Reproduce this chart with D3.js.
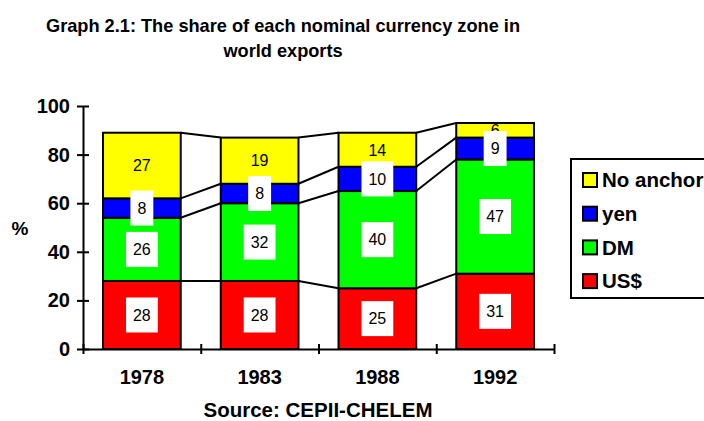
<!DOCTYPE html>
<html>
<head>
<meta charset="utf-8">
<script src="https://cdn.jsdelivr.net/npm/d3@7"></script>
<style>
  body { margin: 0; background: #fff; }
  svg { display: block; font-family: Arial, "Liberation Sans", sans-serif; }
  .axis path, .axis line { stroke: #000; stroke-width: 2; }
  .axis text { font-weight: bold; fill: #000; }
</style>
</head>
<body>
<svg id="chart" width="704" height="421"></svg>
<script>
// data
var years = ['1978', '1983', '1988', '1992'];
var usd = [28, 28, 25, 31];
var dm = [26, 32, 40, 47];
var yen = [8, 8, 10, 9];
var noAnchor = [27, 19, 14, 6];
var seriesNames = ['US$', 'DM', 'yen', 'No anchor'];
var seriesColors = ['#ff0000', '#00ff00', '#0000ff', '#ffff00'];
var yTicks = [0, 20, 40, 60, 80, 100];

var svg = d3.select('#chart');

var rows = years.map(function (y, i) {
    return { year: y, 'US$': usd[i], 'DM': dm[i], 'yen': yen[i], 'No anchor': noAnchor[i] };
});
var stack = d3.stack().keys(seriesNames)(rows);

var x = d3.scaleBand()
    .domain(years)
    .range([83, 554])
    .paddingInner(0.34)
    .paddingOuter(0.17);

var y = d3.scaleLinear()
    .domain([0, 100])
    .range([349, 106]);

// boundaries between categories (where the x ticks sit)
var xEdge = d3.scaleLinear()
    .domain([0, years.length])
    .range(x.range());

// title
svg.append('text')
    .attr('x', 283).attr('y', 31.5)
    .attr('text-anchor', 'middle')
    .style('font-size', '18.2px').style('font-weight', 'bold')
    .text('Graph 2.1: The share of each nominal currency zone in');
svg.append('text')
    .attr('x', 283).attr('y', 56.5)
    .attr('text-anchor', 'middle')
    .style('font-size', '18.2px').style('font-weight', 'bold')
    .text('world exports');

// connecting lines between the bars
var links = [];
stack.forEach(function (s) {
    for (var i = 0; i < years.length - 1; i++) {
        links.push({
            x1: x(years[i]) + x.bandwidth(), y1: y(s[i][1]),
            x2: x(years[i + 1]), y2: y(s[i + 1][1])
        });
    }
});
svg.append('g')
    .selectAll('line')
    .data(links)
    .enter().append('line')
    .attr('x1', function (d) { return d.x1; })
    .attr('y1', function (d) { return d.y1; })
    .attr('x2', function (d) { return d.x2; })
    .attr('y2', function (d) { return d.y2; })
    .attr('stroke', '#000')
    .attr('stroke-width', 2);

// bars
svg.append('g')
    .selectAll('g')
    .data(stack)
    .enter().append('g')
    .attr('fill', function (d, i) { return seriesColors[i]; })
    .selectAll('rect')
    .data(function (d) { return d; })
    .enter().append('rect')
    .attr('x', function (d) { return x(d.data.year); })
    .attr('y', function (d) { return y(d[1]); })
    .attr('width', x.bandwidth())
    .attr('height', function (d) { return y(d[0]) - y(d[1]); })
    .attr('stroke', '#000')
    .attr('stroke-width', 2);

// value labels, top series first so lower boxes sit on top
var labels = svg.append('g');
stack.slice().reverse().forEach(function (s) {
    var boxed = s.key !== 'No anchor';
    s.forEach(function (d) {
        var cx = x(d.data.year) + x.bandwidth() / 2;
        var cy = y((d[0] + d[1]) / 2);
        var g = labels.append('g');
        var box = g.append('rect').attr('fill', '#fff');
        var t = g.append('text')
            .attr('x', cx).attr('y', cy)
            .attr('dy', '0.36em')
            .attr('text-anchor', 'middle')
            .style('font-size', '16px')
            .text(d[1] - d[0]);
        if (boxed) {
            var w = t.node().getComputedTextLength() + 14;
            box.attr('x', cx - w / 2).attr('y', cy - 17.5)
                .attr('width', w).attr('height', 35);
        } else {
            box.remove();
        }
    });
});

// y axis
var yAxis = svg.append('g')
    .attr('class', 'axis')
    .attr('transform', 'translate(83,0)')
    .call(d3.axisLeft(y).tickValues(yTicks).tickSize(6).tickPadding(7).tickSizeOuter(0));
yAxis.selectAll('.tick line').attr('x1', -6).attr('x2', 6);
yAxis.selectAll('text').style('font-size', '20px');

// x axis: ticks at category boundaries, labels under categories
var xTicks = svg.append('g')
    .attr('class', 'axis')
    .attr('transform', 'translate(0,349)')
    .call(d3.axisBottom(xEdge).tickValues(d3.range(years.length + 1)).tickFormat('').tickSizeOuter(0));
xTicks.selectAll('.tick line').attr('y1', -5).attr('y2', 5);

var xLabels = svg.append('g')
    .attr('class', 'axis')
    .attr('transform', 'translate(0,349)')
    .call(d3.axisBottom(x).tickSize(0).tickPadding(21));
xLabels.select('.domain').remove();
xLabels.selectAll('text').style('font-size', '20px');

// axis titles
svg.append('text')
    .attr('x', 20).attr('y', 235)
    .attr('text-anchor', 'middle')
    .style('font-size', '19px').style('font-weight', 'bold')
    .text('%');
svg.append('text')
    .attr('x', 318).attr('y', 417)
    .attr('text-anchor', 'middle')
    .style('font-size', '20.5px').style('font-weight', 'bold')
    .text('Source: CEPII-CHELEM');

// legend
var legend = svg.append('g').attr('transform', 'translate(571,159)');
legend.append('rect')
    .attr('width', 150).attr('height', 139)
    .attr('fill', '#fff')
    .attr('stroke', '#000').attr('stroke-width', 2);

var legendItems = legend.selectAll('.legend')
    .data(seriesNames.slice().reverse())
    .enter().append('g')
    .attr('class', 'legend')
    .attr('transform', function (d, i) { return 'translate(12,' + (21 + i * 33.7) + ')'; });
legendItems.append('rect')
    .attr('x', 0).attr('y', -7)
    .attr('width', 14).attr('height', 14)
    .attr('fill', function (d) { return seriesColors[seriesNames.indexOf(d)]; })
    .attr('stroke', '#000').attr('stroke-width', 2);
legendItems.append('text')
    .attr('x', 19).attr('dy', '0.36em')
    .style('font-size', '20.5px').style('font-weight', 'bold')
    .text(function (d) { return d; });
</script>
</body>
</html>
